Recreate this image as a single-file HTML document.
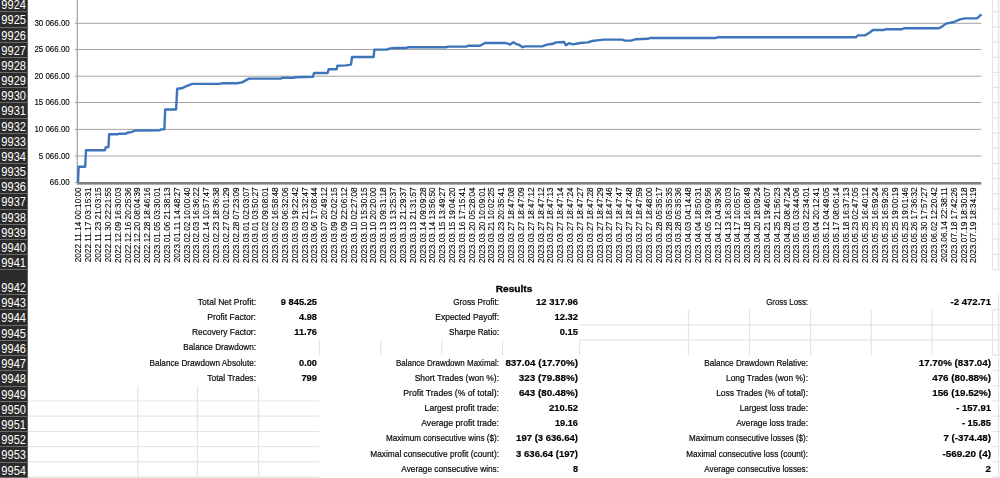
<!DOCTYPE html>
<html><head><meta charset="utf-8"><title>Results</title>
<style>
html,body{margin:0;padding:0;background:#fff;}
body{width:1000px;height:478px;overflow:hidden;position:relative;font-family:"Liberation Sans",sans-serif;}
#hdr{position:absolute;left:0;top:0;width:28.0px;height:478px;background:#2b2b2b;overflow:hidden;box-sizing:border-box;border-right:1px solid #606060;}
#hdr div{position:absolute;left:-20px;width:48px;color:#fff;font-size:13px;text-align:right;box-sizing:border-box;padding-right:1.6px;border-bottom:1.5px solid #6c6c6c;line-height:13px;}
#hdr span{display:inline-block;transform:scaleX(0.85);transform-origin:100% 50%;}
.t{position:absolute;font-size:9.4px;color:#0a0a0a;white-space:nowrap;text-align:right;line-height:12px;-webkit-text-stroke:0.2px #000;transform:scaleX(0.88);transform-origin:100% 50%;}
.b{font-weight:bold;color:#000;font-size:9.8px;-webkit-text-stroke:0.2px #000;}
svg{position:absolute;left:0;top:0;will-change:transform;}
svg text{font-family:"Liberation Sans",sans-serif;}
</style></head><body>

<svg width="1000" height="478" viewBox="0 0 1000 478">
<line x1="992.6" y1="0.0" x2="992.6" y2="269.6" stroke="#e5e5e5" stroke-width="1.2"/>
<line x1="998.6" y1="0.0" x2="998.6" y2="269.6" stroke="#e5e5e5" stroke-width="1.2"/>
<line x1="992.6" y1="11.7" x2="1000.0" y2="11.7" stroke="#e5e5e5" stroke-width="1.2"/>
<line x1="992.6" y1="26.9" x2="1000.0" y2="26.9" stroke="#e5e5e5" stroke-width="1.2"/>
<line x1="992.6" y1="42.0" x2="1000.0" y2="42.0" stroke="#e5e5e5" stroke-width="1.2"/>
<line x1="992.6" y1="57.2" x2="1000.0" y2="57.2" stroke="#e5e5e5" stroke-width="1.2"/>
<line x1="992.6" y1="72.4" x2="1000.0" y2="72.4" stroke="#e5e5e5" stroke-width="1.2"/>
<line x1="992.6" y1="87.5" x2="1000.0" y2="87.5" stroke="#e5e5e5" stroke-width="1.2"/>
<line x1="992.6" y1="102.7" x2="1000.0" y2="102.7" stroke="#e5e5e5" stroke-width="1.2"/>
<line x1="992.6" y1="117.9" x2="1000.0" y2="117.9" stroke="#e5e5e5" stroke-width="1.2"/>
<line x1="992.6" y1="133.1" x2="1000.0" y2="133.1" stroke="#e5e5e5" stroke-width="1.2"/>
<line x1="992.6" y1="148.2" x2="1000.0" y2="148.2" stroke="#e5e5e5" stroke-width="1.2"/>
<line x1="992.6" y1="163.4" x2="1000.0" y2="163.4" stroke="#e5e5e5" stroke-width="1.2"/>
<line x1="992.6" y1="178.6" x2="1000.0" y2="178.6" stroke="#e5e5e5" stroke-width="1.2"/>
<line x1="992.6" y1="193.7" x2="1000.0" y2="193.7" stroke="#e5e5e5" stroke-width="1.2"/>
<line x1="992.6" y1="208.9" x2="1000.0" y2="208.9" stroke="#e5e5e5" stroke-width="1.2"/>
<line x1="992.6" y1="224.1" x2="1000.0" y2="224.1" stroke="#e5e5e5" stroke-width="1.2"/>
<line x1="992.6" y1="239.2" x2="1000.0" y2="239.2" stroke="#e5e5e5" stroke-width="1.2"/>
<line x1="992.6" y1="254.4" x2="1000.0" y2="254.4" stroke="#e5e5e5" stroke-width="1.2"/>
<line x1="992.6" y1="269.6" x2="1000.0" y2="269.6" stroke="#e5e5e5" stroke-width="1.2"/>
<line x1="137.8" y1="386.3" x2="137.8" y2="478.0" stroke="#e5e5e5" stroke-width="1.2"/>
<line x1="197.4" y1="386.3" x2="197.4" y2="478.0" stroke="#e5e5e5" stroke-width="1.2"/>
<line x1="258.6" y1="386.3" x2="258.6" y2="478.0" stroke="#e5e5e5" stroke-width="1.2"/>
<line x1="28.0" y1="401.0" x2="319.0" y2="401.0" stroke="#e5e5e5" stroke-width="1.2"/>
<line x1="28.0" y1="416.2" x2="319.0" y2="416.2" stroke="#e5e5e5" stroke-width="1.2"/>
<line x1="28.0" y1="431.5" x2="319.0" y2="431.5" stroke="#e5e5e5" stroke-width="1.2"/>
<line x1="28.0" y1="446.7" x2="319.0" y2="446.7" stroke="#e5e5e5" stroke-width="1.2"/>
<line x1="28.0" y1="461.9" x2="319.0" y2="461.9" stroke="#e5e5e5" stroke-width="1.2"/>
<line x1="28.0" y1="477.2" x2="319.0" y2="477.2" stroke="#e5e5e5" stroke-width="1.2"/>
<line x1="319.4" y1="340.1" x2="319.4" y2="355.3" stroke="#e5e5e5" stroke-width="1.2"/>
<line x1="380.7" y1="340.1" x2="380.7" y2="355.3" stroke="#e5e5e5" stroke-width="1.2"/>
<line x1="441.8" y1="340.1" x2="441.8" y2="355.3" stroke="#e5e5e5" stroke-width="1.2"/>
<line x1="502.5" y1="340.1" x2="502.5" y2="355.3" stroke="#e5e5e5" stroke-width="1.2"/>
<line x1="579.6" y1="340.1" x2="579.6" y2="355.3" stroke="#e5e5e5" stroke-width="1.2"/>
<line x1="688.5" y1="309.6" x2="688.5" y2="355.3" stroke="#e5e5e5" stroke-width="1.2"/>
<line x1="749.5" y1="309.6" x2="749.5" y2="355.3" stroke="#e5e5e5" stroke-width="1.2"/>
<line x1="810.6" y1="309.6" x2="810.6" y2="355.3" stroke="#e5e5e5" stroke-width="1.2"/>
<line x1="871.3" y1="309.6" x2="871.3" y2="355.3" stroke="#e5e5e5" stroke-width="1.2"/>
<line x1="932.0" y1="309.6" x2="932.0" y2="355.3" stroke="#e5e5e5" stroke-width="1.2"/>
<line x1="992.6" y1="309.6" x2="992.6" y2="355.3" stroke="#e5e5e5" stroke-width="1.2"/>
<line x1="579.6" y1="324.9" x2="1000.0" y2="324.9" stroke="#e5e5e5" stroke-width="1.2"/>
<line x1="579.6" y1="340.1" x2="1000.0" y2="340.1" stroke="#e5e5e5" stroke-width="1.2"/>
<line x1="992.6" y1="309.6" x2="1000.0" y2="309.6" stroke="#e5e5e5" stroke-width="1.2"/>
<line x1="992.6" y1="355.3" x2="1000.0" y2="355.3" stroke="#e5e5e5" stroke-width="1.2"/>
<line x1="998.6" y1="294.4" x2="998.6" y2="478.0" stroke="#e5e5e5" stroke-width="1.2"/>
<line x1="992.0" y1="370.5" x2="1000.0" y2="370.5" stroke="#e5e5e5" stroke-width="1.2"/>
<line x1="992.0" y1="385.8" x2="1000.0" y2="385.8" stroke="#e5e5e5" stroke-width="1.2"/>
<line x1="992.0" y1="401.0" x2="1000.0" y2="401.0" stroke="#e5e5e5" stroke-width="1.2"/>
<line x1="992.0" y1="416.2" x2="1000.0" y2="416.2" stroke="#e5e5e5" stroke-width="1.2"/>
<line x1="992.0" y1="431.5" x2="1000.0" y2="431.5" stroke="#e5e5e5" stroke-width="1.2"/>
<line x1="992.0" y1="446.7" x2="1000.0" y2="446.7" stroke="#e5e5e5" stroke-width="1.2"/>
<line x1="992.0" y1="461.9" x2="1000.0" y2="461.9" stroke="#e5e5e5" stroke-width="1.2"/>
<line x1="992.0" y1="477.2" x2="1000.0" y2="477.2" stroke="#e5e5e5" stroke-width="1.2"/>
<line x1="74.8" y1="23.3" x2="981.3" y2="23.3" stroke="#a4a4a4" stroke-width="1"/>
<line x1="74.8" y1="49.5" x2="981.3" y2="49.5" stroke="#a4a4a4" stroke-width="1"/>
<line x1="74.8" y1="76.2" x2="981.3" y2="76.2" stroke="#a4a4a4" stroke-width="1"/>
<line x1="74.8" y1="102.5" x2="981.3" y2="102.5" stroke="#a4a4a4" stroke-width="1"/>
<line x1="74.8" y1="129.4" x2="981.3" y2="129.4" stroke="#a4a4a4" stroke-width="1"/>
<line x1="74.8" y1="156.0" x2="981.3" y2="156.0" stroke="#a4a4a4" stroke-width="1"/>
<line x1="77.3" y1="0" x2="77.3" y2="182.5" stroke="#a0a0a0" stroke-width="1.2"/>
<rect x="76.8" y="182.0" width="904.5" height="2.6" fill="#808080"/>
<line x1="74.8" y1="182.5" x2="77.3" y2="182.5" stroke="#a4a4a4" stroke-width="1"/>
<text transform="translate(69.7,26.00) scale(0.810,1)" font-size="9.8" text-anchor="end" fill="#000" stroke="#000" stroke-width="0.12">30 066.00</text>
<text transform="translate(69.7,52.15) scale(0.810,1)" font-size="9.8" text-anchor="end" fill="#000" stroke="#000" stroke-width="0.12">25 066.00</text>
<text transform="translate(69.7,78.90) scale(0.810,1)" font-size="9.8" text-anchor="end" fill="#000" stroke="#000" stroke-width="0.12">20 066.00</text>
<text transform="translate(69.7,105.20) scale(0.810,1)" font-size="9.8" text-anchor="end" fill="#000" stroke="#000" stroke-width="0.12">15 066.00</text>
<text transform="translate(69.7,132.15) scale(0.810,1)" font-size="9.8" text-anchor="end" fill="#000" stroke="#000" stroke-width="0.12">10 066.00</text>
<text transform="translate(69.7,158.70) scale(0.810,1)" font-size="9.8" text-anchor="end" fill="#000" stroke="#000" stroke-width="0.12">5 066.00</text>
<text transform="translate(69.7,185.20) scale(0.810,1)" font-size="9.8" text-anchor="end" fill="#000" stroke="#000" stroke-width="0.12">66.00</text>
<polyline fill="none" stroke="#3e74ba" stroke-width="2.4" stroke-linejoin="round" points="78.0,182.4 78.6,166.7 85.2,166.7 86.0,150.3 104.8,150.3 105.9,147.1 108.4,147.1 109.2,134.3 117.6,134.3 119.0,133.7 125.8,133.7 127.1,132.7 131.2,132.1 135.3,130.5 159.8,130.2 161.2,129.4 164.4,129.4 165.2,109.5 176.1,109.5 177.2,88.8 181.6,88.3 187.0,85.9 192.4,83.9 219.7,83.9 222.4,83.2 237.0,83.2 242.0,82.4 249.0,78.6 281.0,78.6 282.0,77.8 294.0,77.8 295.0,77.2 313.0,76.8 314.0,73.0 327.6,73.0 328.6,69.2 336.6,69.2 337.4,65.8 346.0,65.4 351.0,64.6 352.0,57.0 373.6,57.0 374.4,49.6 387.0,49.6 389.0,48.6 394.0,48.0 406.0,48.0 408.0,47.3 446.0,47.3 448.0,46.6 466.0,46.6 468.0,45.8 480.0,45.8 485.0,43.0 506.0,43.0 510.0,44.6 513.4,42.2 517.0,44.4 519.0,44.8 522.6,47.2 525.0,46.4 542.0,46.4 547.0,44.6 553.0,43.8 556.0,42.4 564.0,42.0 566.0,45.2 569.0,43.2 573.0,44.4 580.0,43.0 588.0,42.4 592.0,41.0 597.0,40.4 604.0,39.6 622.0,39.6 625.0,40.6 631.0,40.6 636.0,39.2 648.0,38.8 650.0,38.0 716.0,38.0 718.0,37.2 856.0,37.2 858.0,35.4 865.0,35.4 869.0,33.0 873.0,30.0 884.0,30.0 886.0,29.2 902.0,29.2 904.0,28.2 939.0,28.2 942.0,26.6 946.0,23.6 954.0,22.0 960.0,19.4 965.0,18.4 977.0,18.4 981.4,14.4"/>
<text transform="translate(81.40,187.3) rotate(-90) scale(0.842,1)" font-size="9.8" text-anchor="end" fill="#000" stroke="#000" stroke-width="0.12">2022.11.14 00:10:00</text>
<text transform="translate(91.23,187.3) rotate(-90) scale(0.842,1)" font-size="9.8" text-anchor="end" fill="#000" stroke="#000" stroke-width="0.12">2022.11.17 03:15:31</text>
<text transform="translate(101.07,187.3) rotate(-90) scale(0.842,1)" font-size="9.8" text-anchor="end" fill="#000" stroke="#000" stroke-width="0.12">2022.11.23 21:03:15</text>
<text transform="translate(110.91,187.3) rotate(-90) scale(0.842,1)" font-size="9.8" text-anchor="end" fill="#000" stroke="#000" stroke-width="0.12">2022.11.30 22:21:55</text>
<text transform="translate(120.74,187.3) rotate(-90) scale(0.842,1)" font-size="9.8" text-anchor="end" fill="#000" stroke="#000" stroke-width="0.12">2022.12.09 16:30:03</text>
<text transform="translate(130.57,187.3) rotate(-90) scale(0.842,1)" font-size="9.8" text-anchor="end" fill="#000" stroke="#000" stroke-width="0.12">2022.12.16 20:25:36</text>
<text transform="translate(140.41,187.3) rotate(-90) scale(0.842,1)" font-size="9.8" text-anchor="end" fill="#000" stroke="#000" stroke-width="0.12">2022.12.20 08:04:39</text>
<text transform="translate(150.24,187.3) rotate(-90) scale(0.842,1)" font-size="9.8" text-anchor="end" fill="#000" stroke="#000" stroke-width="0.12">2022.12.28 18:46:16</text>
<text transform="translate(160.08,187.3) rotate(-90) scale(0.842,1)" font-size="9.8" text-anchor="end" fill="#000" stroke="#000" stroke-width="0.12">2023.01.05 03:30:01</text>
<text transform="translate(169.91,187.3) rotate(-90) scale(0.842,1)" font-size="9.8" text-anchor="end" fill="#000" stroke="#000" stroke-width="0.12">2023.01.06 21:38:13</text>
<text transform="translate(179.75,187.3) rotate(-90) scale(0.842,1)" font-size="9.8" text-anchor="end" fill="#000" stroke="#000" stroke-width="0.12">2023.01.11 14:48:27</text>
<text transform="translate(189.59,187.3) rotate(-90) scale(0.842,1)" font-size="9.8" text-anchor="end" fill="#000" stroke="#000" stroke-width="0.12">2023.02.02 10:00:40</text>
<text transform="translate(199.42,187.3) rotate(-90) scale(0.842,1)" font-size="9.8" text-anchor="end" fill="#000" stroke="#000" stroke-width="0.12">2023.02.03 16:36:22</text>
<text transform="translate(209.26,187.3) rotate(-90) scale(0.842,1)" font-size="9.8" text-anchor="end" fill="#000" stroke="#000" stroke-width="0.12">2023.02.14 10:57:47</text>
<text transform="translate(219.09,187.3) rotate(-90) scale(0.842,1)" font-size="9.8" text-anchor="end" fill="#000" stroke="#000" stroke-width="0.12">2023.02.23 18:36:38</text>
<text transform="translate(228.92,187.3) rotate(-90) scale(0.842,1)" font-size="9.8" text-anchor="end" fill="#000" stroke="#000" stroke-width="0.12">2023.02.27 02:01:29</text>
<text transform="translate(238.76,187.3) rotate(-90) scale(0.842,1)" font-size="9.8" text-anchor="end" fill="#000" stroke="#000" stroke-width="0.12">2023.02.28 07:23:09</text>
<text transform="translate(248.59,187.3) rotate(-90) scale(0.842,1)" font-size="9.8" text-anchor="end" fill="#000" stroke="#000" stroke-width="0.12">2023.03.01 02:03:07</text>
<text transform="translate(258.43,187.3) rotate(-90) scale(0.842,1)" font-size="9.8" text-anchor="end" fill="#000" stroke="#000" stroke-width="0.12">2023.03.01 03:50:27</text>
<text transform="translate(268.27,187.3) rotate(-90) scale(0.842,1)" font-size="9.8" text-anchor="end" fill="#000" stroke="#000" stroke-width="0.12">2023.03.02 09:08:01</text>
<text transform="translate(278.10,187.3) rotate(-90) scale(0.842,1)" font-size="9.8" text-anchor="end" fill="#000" stroke="#000" stroke-width="0.12">2023.03.02 16:58:48</text>
<text transform="translate(287.94,187.3) rotate(-90) scale(0.842,1)" font-size="9.8" text-anchor="end" fill="#000" stroke="#000" stroke-width="0.12">2023.03.03 06:32:06</text>
<text transform="translate(297.77,187.3) rotate(-90) scale(0.842,1)" font-size="9.8" text-anchor="end" fill="#000" stroke="#000" stroke-width="0.12">2023.03.03 19:22:42</text>
<text transform="translate(307.61,187.3) rotate(-90) scale(0.842,1)" font-size="9.8" text-anchor="end" fill="#000" stroke="#000" stroke-width="0.12">2023.03.03 21:32:47</text>
<text transform="translate(317.44,187.3) rotate(-90) scale(0.842,1)" font-size="9.8" text-anchor="end" fill="#000" stroke="#000" stroke-width="0.12">2023.03.06 17:08:44</text>
<text transform="translate(327.28,187.3) rotate(-90) scale(0.842,1)" font-size="9.8" text-anchor="end" fill="#000" stroke="#000" stroke-width="0.12">2023.03.07 20:49:12</text>
<text transform="translate(337.11,187.3) rotate(-90) scale(0.842,1)" font-size="9.8" text-anchor="end" fill="#000" stroke="#000" stroke-width="0.12">2023.03.09 02:02:15</text>
<text transform="translate(346.95,187.3) rotate(-90) scale(0.842,1)" font-size="9.8" text-anchor="end" fill="#000" stroke="#000" stroke-width="0.12">2023.03.09 22:06:12</text>
<text transform="translate(356.78,187.3) rotate(-90) scale(0.842,1)" font-size="9.8" text-anchor="end" fill="#000" stroke="#000" stroke-width="0.12">2023.03.10 02:27:08</text>
<text transform="translate(366.62,187.3) rotate(-90) scale(0.842,1)" font-size="9.8" text-anchor="end" fill="#000" stroke="#000" stroke-width="0.12">2023.03.10 15:30:15</text>
<text transform="translate(376.45,187.3) rotate(-90) scale(0.842,1)" font-size="9.8" text-anchor="end" fill="#000" stroke="#000" stroke-width="0.12">2023.03.10 20:20:00</text>
<text transform="translate(386.29,187.3) rotate(-90) scale(0.842,1)" font-size="9.8" text-anchor="end" fill="#000" stroke="#000" stroke-width="0.12">2023.03.13 09:31:18</text>
<text transform="translate(396.12,187.3) rotate(-90) scale(0.842,1)" font-size="9.8" text-anchor="end" fill="#000" stroke="#000" stroke-width="0.12">2023.03.13 13:25:37</text>
<text transform="translate(405.96,187.3) rotate(-90) scale(0.842,1)" font-size="9.8" text-anchor="end" fill="#000" stroke="#000" stroke-width="0.12">2023.03.13 21:29:37</text>
<text transform="translate(415.79,187.3) rotate(-90) scale(0.842,1)" font-size="9.8" text-anchor="end" fill="#000" stroke="#000" stroke-width="0.12">2023.03.13 21:31:57</text>
<text transform="translate(425.63,187.3) rotate(-90) scale(0.842,1)" font-size="9.8" text-anchor="end" fill="#000" stroke="#000" stroke-width="0.12">2023.03.14 09:09:28</text>
<text transform="translate(435.46,187.3) rotate(-90) scale(0.842,1)" font-size="9.8" text-anchor="end" fill="#000" stroke="#000" stroke-width="0.12">2023.03.14 13:56:50</text>
<text transform="translate(445.30,187.3) rotate(-90) scale(0.842,1)" font-size="9.8" text-anchor="end" fill="#000" stroke="#000" stroke-width="0.12">2023.03.15 13:49:27</text>
<text transform="translate(455.13,187.3) rotate(-90) scale(0.842,1)" font-size="9.8" text-anchor="end" fill="#000" stroke="#000" stroke-width="0.12">2023.03.15 19:04:20</text>
<text transform="translate(464.97,187.3) rotate(-90) scale(0.842,1)" font-size="9.8" text-anchor="end" fill="#000" stroke="#000" stroke-width="0.12">2023.03.16 17:15:41</text>
<text transform="translate(474.80,187.3) rotate(-90) scale(0.842,1)" font-size="9.8" text-anchor="end" fill="#000" stroke="#000" stroke-width="0.12">2023.03.20 05:28:04</text>
<text transform="translate(484.64,187.3) rotate(-90) scale(0.842,1)" font-size="9.8" text-anchor="end" fill="#000" stroke="#000" stroke-width="0.12">2023.03.20 10:09:01</text>
<text transform="translate(494.47,187.3) rotate(-90) scale(0.842,1)" font-size="9.8" text-anchor="end" fill="#000" stroke="#000" stroke-width="0.12">2023.03.21 10:02:25</text>
<text transform="translate(504.31,187.3) rotate(-90) scale(0.842,1)" font-size="9.8" text-anchor="end" fill="#000" stroke="#000" stroke-width="0.12">2023.03.23 20:35:41</text>
<text transform="translate(514.14,187.3) rotate(-90) scale(0.842,1)" font-size="9.8" text-anchor="end" fill="#000" stroke="#000" stroke-width="0.12">2023.03.27 18:47:08</text>
<text transform="translate(523.98,187.3) rotate(-90) scale(0.842,1)" font-size="9.8" text-anchor="end" fill="#000" stroke="#000" stroke-width="0.12">2023.03.27 18:47:09</text>
<text transform="translate(533.81,187.3) rotate(-90) scale(0.842,1)" font-size="9.8" text-anchor="end" fill="#000" stroke="#000" stroke-width="0.12">2023.03.27 18:47:12</text>
<text transform="translate(543.65,187.3) rotate(-90) scale(0.842,1)" font-size="9.8" text-anchor="end" fill="#000" stroke="#000" stroke-width="0.12">2023.03.27 18:47:12</text>
<text transform="translate(553.48,187.3) rotate(-90) scale(0.842,1)" font-size="9.8" text-anchor="end" fill="#000" stroke="#000" stroke-width="0.12">2023.03.27 18:47:13</text>
<text transform="translate(563.32,187.3) rotate(-90) scale(0.842,1)" font-size="9.8" text-anchor="end" fill="#000" stroke="#000" stroke-width="0.12">2023.03.27 18:47:14</text>
<text transform="translate(573.15,187.3) rotate(-90) scale(0.842,1)" font-size="9.8" text-anchor="end" fill="#000" stroke="#000" stroke-width="0.12">2023.03.27 18:47:24</text>
<text transform="translate(582.99,187.3) rotate(-90) scale(0.842,1)" font-size="9.8" text-anchor="end" fill="#000" stroke="#000" stroke-width="0.12">2023.03.27 18:47:27</text>
<text transform="translate(592.82,187.3) rotate(-90) scale(0.842,1)" font-size="9.8" text-anchor="end" fill="#000" stroke="#000" stroke-width="0.12">2023.03.27 18:47:28</text>
<text transform="translate(602.65,187.3) rotate(-90) scale(0.842,1)" font-size="9.8" text-anchor="end" fill="#000" stroke="#000" stroke-width="0.12">2023.03.27 18:47:29</text>
<text transform="translate(612.49,187.3) rotate(-90) scale(0.842,1)" font-size="9.8" text-anchor="end" fill="#000" stroke="#000" stroke-width="0.12">2023.03.27 18:47:46</text>
<text transform="translate(622.33,187.3) rotate(-90) scale(0.842,1)" font-size="9.8" text-anchor="end" fill="#000" stroke="#000" stroke-width="0.12">2023.03.27 18:47:47</text>
<text transform="translate(632.16,187.3) rotate(-90) scale(0.842,1)" font-size="9.8" text-anchor="end" fill="#000" stroke="#000" stroke-width="0.12">2023.03.27 18:47:48</text>
<text transform="translate(642.00,187.3) rotate(-90) scale(0.842,1)" font-size="9.8" text-anchor="end" fill="#000" stroke="#000" stroke-width="0.12">2023.03.27 18:47:59</text>
<text transform="translate(651.83,187.3) rotate(-90) scale(0.842,1)" font-size="9.8" text-anchor="end" fill="#000" stroke="#000" stroke-width="0.12">2023.03.27 18:48:00</text>
<text transform="translate(661.67,187.3) rotate(-90) scale(0.842,1)" font-size="9.8" text-anchor="end" fill="#000" stroke="#000" stroke-width="0.12">2023.03.28 05:35:17</text>
<text transform="translate(671.50,187.3) rotate(-90) scale(0.842,1)" font-size="9.8" text-anchor="end" fill="#000" stroke="#000" stroke-width="0.12">2023.03.28 05:35:35</text>
<text transform="translate(681.34,187.3) rotate(-90) scale(0.842,1)" font-size="9.8" text-anchor="end" fill="#000" stroke="#000" stroke-width="0.12">2023.03.28 05:35:36</text>
<text transform="translate(691.17,187.3) rotate(-90) scale(0.842,1)" font-size="9.8" text-anchor="end" fill="#000" stroke="#000" stroke-width="0.12">2023.04.03 04:14:48</text>
<text transform="translate(701.00,187.3) rotate(-90) scale(0.842,1)" font-size="9.8" text-anchor="end" fill="#000" stroke="#000" stroke-width="0.12">2023.04.04 18:50:31</text>
<text transform="translate(710.84,187.3) rotate(-90) scale(0.842,1)" font-size="9.8" text-anchor="end" fill="#000" stroke="#000" stroke-width="0.12">2023.04.05 19:09:56</text>
<text transform="translate(720.68,187.3) rotate(-90) scale(0.842,1)" font-size="9.8" text-anchor="end" fill="#000" stroke="#000" stroke-width="0.12">2023.04.12 04:39:36</text>
<text transform="translate(730.51,187.3) rotate(-90) scale(0.842,1)" font-size="9.8" text-anchor="end" fill="#000" stroke="#000" stroke-width="0.12">2023.04.13 16:30:03</text>
<text transform="translate(740.35,187.3) rotate(-90) scale(0.842,1)" font-size="9.8" text-anchor="end" fill="#000" stroke="#000" stroke-width="0.12">2023.04.17 10:05:57</text>
<text transform="translate(750.18,187.3) rotate(-90) scale(0.842,1)" font-size="9.8" text-anchor="end" fill="#000" stroke="#000" stroke-width="0.12">2023.04.18 16:08:49</text>
<text transform="translate(760.01,187.3) rotate(-90) scale(0.842,1)" font-size="9.8" text-anchor="end" fill="#000" stroke="#000" stroke-width="0.12">2023.04.20 18:09:24</text>
<text transform="translate(769.85,187.3) rotate(-90) scale(0.842,1)" font-size="9.8" text-anchor="end" fill="#000" stroke="#000" stroke-width="0.12">2023.04.21 19:46:07</text>
<text transform="translate(779.69,187.3) rotate(-90) scale(0.842,1)" font-size="9.8" text-anchor="end" fill="#000" stroke="#000" stroke-width="0.12">2023.04.25 21:56:23</text>
<text transform="translate(789.52,187.3) rotate(-90) scale(0.842,1)" font-size="9.8" text-anchor="end" fill="#000" stroke="#000" stroke-width="0.12">2023.04.28 08:47:24</text>
<text transform="translate(799.36,187.3) rotate(-90) scale(0.842,1)" font-size="9.8" text-anchor="end" fill="#000" stroke="#000" stroke-width="0.12">2023.05.01 03:44:06</text>
<text transform="translate(809.19,187.3) rotate(-90) scale(0.842,1)" font-size="9.8" text-anchor="end" fill="#000" stroke="#000" stroke-width="0.12">2023.05.03 22:34:01</text>
<text transform="translate(819.03,187.3) rotate(-90) scale(0.842,1)" font-size="9.8" text-anchor="end" fill="#000" stroke="#000" stroke-width="0.12">2023.05.04 20:12:41</text>
<text transform="translate(828.86,187.3) rotate(-90) scale(0.842,1)" font-size="9.8" text-anchor="end" fill="#000" stroke="#000" stroke-width="0.12">2023.05.12 04:49:05</text>
<text transform="translate(838.70,187.3) rotate(-90) scale(0.842,1)" font-size="9.8" text-anchor="end" fill="#000" stroke="#000" stroke-width="0.12">2023.05.17 08:06:14</text>
<text transform="translate(848.53,187.3) rotate(-90) scale(0.842,1)" font-size="9.8" text-anchor="end" fill="#000" stroke="#000" stroke-width="0.12">2023.05.18 16:37:13</text>
<text transform="translate(858.37,187.3) rotate(-90) scale(0.842,1)" font-size="9.8" text-anchor="end" fill="#000" stroke="#000" stroke-width="0.12">2023.05.23 02:47:05</text>
<text transform="translate(868.20,187.3) rotate(-90) scale(0.842,1)" font-size="9.8" text-anchor="end" fill="#000" stroke="#000" stroke-width="0.12">2023.05.25 16:40:12</text>
<text transform="translate(878.04,187.3) rotate(-90) scale(0.842,1)" font-size="9.8" text-anchor="end" fill="#000" stroke="#000" stroke-width="0.12">2023.05.25 16:59:24</text>
<text transform="translate(887.87,187.3) rotate(-90) scale(0.842,1)" font-size="9.8" text-anchor="end" fill="#000" stroke="#000" stroke-width="0.12">2023.05.25 16:59:26</text>
<text transform="translate(897.71,187.3) rotate(-90) scale(0.842,1)" font-size="9.8" text-anchor="end" fill="#000" stroke="#000" stroke-width="0.12">2023.05.25 19:00:19</text>
<text transform="translate(907.54,187.3) rotate(-90) scale(0.842,1)" font-size="9.8" text-anchor="end" fill="#000" stroke="#000" stroke-width="0.12">2023.05.25 19:01:46</text>
<text transform="translate(917.38,187.3) rotate(-90) scale(0.842,1)" font-size="9.8" text-anchor="end" fill="#000" stroke="#000" stroke-width="0.12">2023.05.26 17:36:32</text>
<text transform="translate(927.21,187.3) rotate(-90) scale(0.842,1)" font-size="9.8" text-anchor="end" fill="#000" stroke="#000" stroke-width="0.12">2023.05.30 17:57:27</text>
<text transform="translate(937.05,187.3) rotate(-90) scale(0.842,1)" font-size="9.8" text-anchor="end" fill="#000" stroke="#000" stroke-width="0.12">2023.06.02 12:20:42</text>
<text transform="translate(946.88,187.3) rotate(-90) scale(0.842,1)" font-size="9.8" text-anchor="end" fill="#000" stroke="#000" stroke-width="0.12">2023.06.14 22:38:11</text>
<text transform="translate(956.72,187.3) rotate(-90) scale(0.842,1)" font-size="9.8" text-anchor="end" fill="#000" stroke="#000" stroke-width="0.12">2023.07.18 17:42:26</text>
<text transform="translate(966.55,187.3) rotate(-90) scale(0.842,1)" font-size="9.8" text-anchor="end" fill="#000" stroke="#000" stroke-width="0.12">2023.07.19 18:30:18</text>
<text transform="translate(976.39,187.3) rotate(-90) scale(0.842,1)" font-size="9.8" text-anchor="end" fill="#000" stroke="#000" stroke-width="0.12">2023.07.19 18:34:19</text>
</svg>
<div id="hdr">
<div style="top:-17.89px;height:15.17px;padding-top:0.97px"><span>9923</span></div>
<div style="top:-2.72px;height:15.17px;padding-top:0.97px"><span>9924</span></div>
<div style="top:12.45px;height:15.17px;padding-top:0.97px"><span>9925</span></div>
<div style="top:27.62px;height:15.17px;padding-top:0.97px"><span>9926</span></div>
<div style="top:42.79px;height:15.17px;padding-top:0.97px"><span>9927</span></div>
<div style="top:57.96px;height:15.17px;padding-top:0.97px"><span>9928</span></div>
<div style="top:73.13px;height:15.17px;padding-top:0.97px"><span>9929</span></div>
<div style="top:88.30px;height:15.17px;padding-top:0.97px"><span>9930</span></div>
<div style="top:103.47px;height:15.17px;padding-top:0.97px"><span>9931</span></div>
<div style="top:118.64px;height:15.17px;padding-top:0.97px"><span>9932</span></div>
<div style="top:133.81px;height:15.17px;padding-top:0.97px"><span>9933</span></div>
<div style="top:148.98px;height:15.17px;padding-top:0.97px"><span>9934</span></div>
<div style="top:164.15px;height:15.17px;padding-top:0.97px"><span>9935</span></div>
<div style="top:179.32px;height:15.17px;padding-top:0.97px"><span>9936</span></div>
<div style="top:194.49px;height:15.17px;padding-top:0.97px"><span>9937</span></div>
<div style="top:209.66px;height:15.17px;padding-top:0.97px"><span>9938</span></div>
<div style="top:224.83px;height:15.17px;padding-top:0.97px"><span>9939</span></div>
<div style="top:240.00px;height:15.17px;padding-top:0.97px"><span>9940</span></div>
<div style="top:255.17px;height:15.17px;padding-top:0.97px"><span>9941</span></div>
<div style="top:270.34px;height:24.81px;padding-top:10.61px"><span>9942</span></div>
<div style="top:295.15px;height:15.23px;padding-top:1.03px"><span>9943</span></div>
<div style="top:310.38px;height:15.23px;padding-top:1.03px"><span>9944</span></div>
<div style="top:325.61px;height:15.23px;padding-top:1.03px"><span>9945</span></div>
<div style="top:340.84px;height:15.23px;padding-top:1.03px"><span>9946</span></div>
<div style="top:356.07px;height:15.23px;padding-top:1.03px"><span>9947</span></div>
<div style="top:371.30px;height:15.23px;padding-top:1.03px"><span>9948</span></div>
<div style="top:386.53px;height:15.23px;padding-top:1.03px"><span>9949</span></div>
<div style="top:401.76px;height:15.23px;padding-top:1.03px"><span>9950</span></div>
<div style="top:416.99px;height:15.23px;padding-top:1.03px"><span>9951</span></div>
<div style="top:432.22px;height:15.23px;padding-top:1.03px"><span>9952</span></div>
<div style="top:447.45px;height:15.23px;padding-top:1.03px"><span>9953</span></div>
<div style="top:462.68px;height:15.23px;padding-top:1.03px"><span>9954</span></div>
<div style="top:477.91px;height:15.23px;padding-top:1.03px"><span>9955</span></div>
</div>
<div class="t" style="left:36.1px;width:220px;top:295.9px;transform:scaleX(0.907)">Total Net Profit:</div>
<div class="t b" style="left:97.3px;width:220px;top:295.9px;transform:scaleX(0.949)">9 845.25</div>
<div class="t" style="left:36.1px;width:220px;top:310.9px;transform:scaleX(0.909)">Profit Factor:</div>
<div class="t b" style="left:97.3px;width:220px;top:310.9px;transform:scaleX(0.939)">4.98</div>
<div class="t" style="left:36.1px;width:220px;top:325.9px;transform:scaleX(0.896)">Recovery Factor:</div>
<div class="t b" style="left:97.3px;width:220px;top:325.9px;transform:scaleX(0.947)">11.76</div>
<div class="t" style="left:36.1px;width:220px;top:340.9px;transform:scaleX(0.871)">Balance Drawdown:</div>
<div class="t" style="left:36.1px;width:220px;top:356.9px;transform:scaleX(0.873)">Balance Drawdown Absolute:</div>
<div class="t b" style="left:97.3px;width:220px;top:356.9px;transform:scaleX(0.939)">0.00</div>
<div class="t" style="left:36.1px;width:220px;top:371.9px;transform:scaleX(0.909)">Total Trades:</div>
<div class="t b" style="left:97.3px;width:220px;top:371.9px;transform:scaleX(0.954)">799</div>
<div class="t" style="left:279.3px;width:220px;top:295.9px;transform:scaleX(0.879)">Gross Profit:</div>
<div class="t b" style="left:357.6px;width:220px;top:295.9px;transform:scaleX(0.963)">12 317.96</div>
<div class="t" style="left:279.3px;width:220px;top:310.9px;transform:scaleX(0.900)">Expected Payoff:</div>
<div class="t b" style="left:357.6px;width:220px;top:310.9px;transform:scaleX(0.962)">12.32</div>
<div class="t" style="left:279.3px;width:220px;top:325.9px;transform:scaleX(0.870)">Sharpe Ratio:</div>
<div class="t b" style="left:357.6px;width:220px;top:325.9px;transform:scaleX(0.960)">0.15</div>
<div class="t" style="left:279.3px;width:220px;top:356.9px;transform:scaleX(0.853)">Balance Drawdown Maximal:</div>
<div class="t b" style="left:357.6px;width:220px;top:356.9px;transform:scaleX(1.002)">837.04 (17.70%)</div>
<div class="t" style="left:279.3px;width:220px;top:371.9px;transform:scaleX(0.904)">Short Trades (won %):</div>
<div class="t b" style="left:357.6px;width:220px;top:371.9px;transform:scaleX(1.006)">323 (79.88%)</div>
<div class="t" style="left:279.3px;width:220px;top:386.9px;transform:scaleX(0.923)">Profit Trades (% of total):</div>
<div class="t b" style="left:357.6px;width:220px;top:386.9px;transform:scaleX(1.005)">643 (80.48%)</div>
<div class="t" style="left:279.3px;width:220px;top:401.9px;transform:scaleX(0.915)">Largest profit trade:</div>
<div class="t b" style="left:357.6px;width:220px;top:401.9px;transform:scaleX(0.964)">210.52</div>
<div class="t" style="left:279.3px;width:220px;top:416.9px;transform:scaleX(0.917)">Average profit trade:</div>
<div class="t b" style="left:357.6px;width:220px;top:416.9px;transform:scaleX(0.942)">19.16</div>
<div class="t" style="left:279.3px;width:220px;top:431.9px;transform:scaleX(0.865)">Maximum consecutive wins ($):</div>
<div class="t b" style="left:357.6px;width:220px;top:431.9px;transform:scaleX(0.971)">197 (3 636.64)</div>
<div class="t" style="left:279.3px;width:220px;top:447.9px;transform:scaleX(0.889)">Maximal consecutive profit (count):</div>
<div class="t b" style="left:357.6px;width:220px;top:447.9px;transform:scaleX(0.971)">3 636.64 (197)</div>
<div class="t" style="left:279.3px;width:220px;top:462.9px;transform:scaleX(0.881)">Average consecutive wins:</div>
<div class="t b" style="left:357.6px;width:220px;top:462.9px;transform:scaleX(0.936)">8</div>
<div class="t" style="left:587.6px;width:220px;top:295.9px;transform:scaleX(0.834)">Gross Loss:</div>
<div class="t b" style="left:771.2px;width:220px;top:295.9px;transform:scaleX(0.978)">-2 472.71</div>
<div class="t" style="left:587.6px;width:220px;top:356.9px;transform:scaleX(0.865)">Balance Drawdown Relative:</div>
<div class="t b" style="left:771.2px;width:220px;top:356.9px;transform:scaleX(0.998)">17.70% (837.04)</div>
<div class="t" style="left:587.6px;width:220px;top:371.9px;transform:scaleX(0.894)">Long Trades (won %):</div>
<div class="t b" style="left:771.2px;width:220px;top:371.9px;transform:scaleX(0.999)">476 (80.88%)</div>
<div class="t" style="left:587.6px;width:220px;top:386.9px;transform:scaleX(0.904)">Loss Trades (% of total):</div>
<div class="t b" style="left:771.2px;width:220px;top:386.9px;transform:scaleX(0.999)">156 (19.52%)</div>
<div class="t" style="left:587.6px;width:220px;top:401.9px;transform:scaleX(0.885)">Largest loss trade:</div>
<div class="t b" style="left:771.2px;width:220px;top:401.9px;transform:scaleX(0.968)">- 157.91</div>
<div class="t" style="left:587.6px;width:220px;top:416.9px;transform:scaleX(0.891)">Average loss trade:</div>
<div class="t b" style="left:771.2px;width:220px;top:416.9px;transform:scaleX(0.954)">- 15.85</div>
<div class="t" style="left:587.6px;width:220px;top:431.9px;transform:scaleX(0.859)">Maximum consecutive losses ($):</div>
<div class="t b" style="left:771.2px;width:220px;top:431.9px;transform:scaleX(0.993)">7 (-374.48)</div>
<div class="t" style="left:587.6px;width:220px;top:447.9px;transform:scaleX(0.866)">Maximal consecutive loss (count):</div>
<div class="t b" style="left:771.2px;width:220px;top:447.9px;transform:scaleX(1.014)">-569.20 (4)</div>
<div class="t" style="left:587.6px;width:220px;top:462.9px;transform:scaleX(0.874)">Average consecutive losses:</div>
<div class="t b" style="left:771.2px;width:220px;top:462.9px;transform:scaleX(0.991)">2</div>
<div class="t b" style="left:414px;width:200px;text-align:center;transform:scaleX(1.09);transform-origin:50% 50%;top:282.9px;font-size:9.3px;-webkit-text-stroke:0.3px #000">Results</div>
</body></html>
